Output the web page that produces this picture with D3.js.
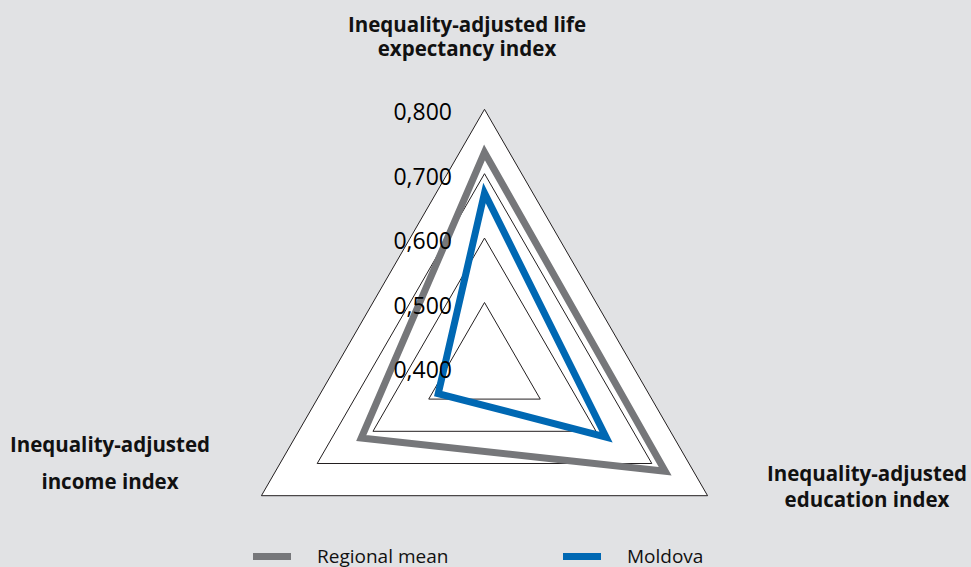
<!DOCTYPE html>
<html>
<head>
<meta charset="utf-8">
<script src="https://cdn.jsdelivr.net/npm/d3@7"></script>
<style>
  html, body { margin: 0; padding: 0; background: #e1e2e4; }
  svg { display: block; }
</style>
</head>
<body>
<svg id="radar" width="971" height="567"></svg>
<script>
// axes, clockwise from the top
const axes = ["life", "education", "income"];
const axisTitles = [
    ["Inequality-adjusted life", "expectancy index"],
    ["Inequality-adjusted", "education index"],
    ["Inequality-adjusted", "income index"]
];
const seriesNames = ["Regional mean", "Moldova"];
const regionalMean = [0.733, 0.724, 0.621];
const moldova = [0.670, 0.618, 0.483];
const levels = [0.8, 0.7, 0.6, 0.5];
const tickValues = [0.8, 0.7, 0.6, 0.5, 0.4];
const tickLabels = ["0,800", "0,700", "0,600", "0,500", "0,400"];

const W = 971, H = 567;
const cx = 484.5, cy = 366.9, R = 257.6;
const colors = ["#76777a", "#0068b3"];

const svg = d3.select("#radar");
svg.append("rect").attr("width", W).attr("height", H).attr("fill", "#e1e2e4");

const r = d3.scaleLinear().domain([0.4, 0.8]).range([0, R]);
const angle = d3.scalePoint().domain(axes).range([0, 240]); // degrees from top, clockwise

function pt(axis, v) {
    const a = (angle(axis) - 90) * Math.PI / 180;
    return [cx + r(v) * Math.cos(a), cy + r(v) * Math.sin(a)];
}

const line = d3.line();
const closed = pts => line(pts) + "Z";

// grid triangles
svg.append("g").selectAll("path")
    .data(levels)
    .join("path")
    .attr("d", v => closed(axes.map(a => pt(a, v))))
    .attr("fill", "#fff")
    .attr("stroke", "#231f20")
    .attr("stroke-width", 1);

// series
const series = [regionalMean, moldova];
svg.append("g").selectAll("path")
    .data(series)
    .join("path")
    .attr("d", vals => closed(axes.map((a, i) => pt(a, vals[i]))))
    .attr("fill", "none")
    .attr("stroke", (d, i) => colors[i])
    .attr("stroke-width", 7)
    .attr("stroke-linejoin", "miter")
    .attr("stroke-miterlimit", 3);

// value labels along the top axis
svg.append("g").selectAll("text")
    .data(tickValues)
    .join("text")
    .attr("x", 452)
    .attr("y", v => cy - r(v) + 11)
    .attr("text-anchor", "end")
    .attr("font-family", "'Open Sans', sans-serif")
    .attr("font-size", 23)
    .attr("fill", "#000")
    .text((v, i) => tickLabels[i]);

// axis titles
const titlePos = [
    { x: 467, y: 32, dy: 24 },
    { x: 867, y: 481, dy: 26 },
    { x: 110, y: 452, dy: 37 }
];
const titles = svg.append("g")
    .attr("font-family", "'Open Sans', sans-serif")
    .attr("font-weight", "bold")
    .attr("font-size", 20.5)
    .attr("fill", "#111")
    .attr("text-anchor", "middle");
axisTitles.forEach((lines, i) => {
    const p = titlePos[i];
    lines.forEach((t, j) => {
        titles.append("text")
            .attr("x", p.x)
            .attr("y", p.y + j * p.dy)
            .text(t);
    });
});

// legend
const legendX = [253, 563];
const legend = svg.append("g").selectAll("g")
    .data(seriesNames)
    .join("g")
    .attr("transform", (d, i) => `translate(${legendX[i]},553)`);
legend.append("rect")
    .attr("width", 38).attr("height", 7)
    .attr("fill", (d, i) => colors[i]);
legend.append("text")
    .attr("x", 64).attr("y", 10)
    .attr("font-family", "'Open Sans', sans-serif")
    .attr("font-size", 19)
    .attr("fill", "#111")
    .text(d => d);
</script>
</body>
</html>
